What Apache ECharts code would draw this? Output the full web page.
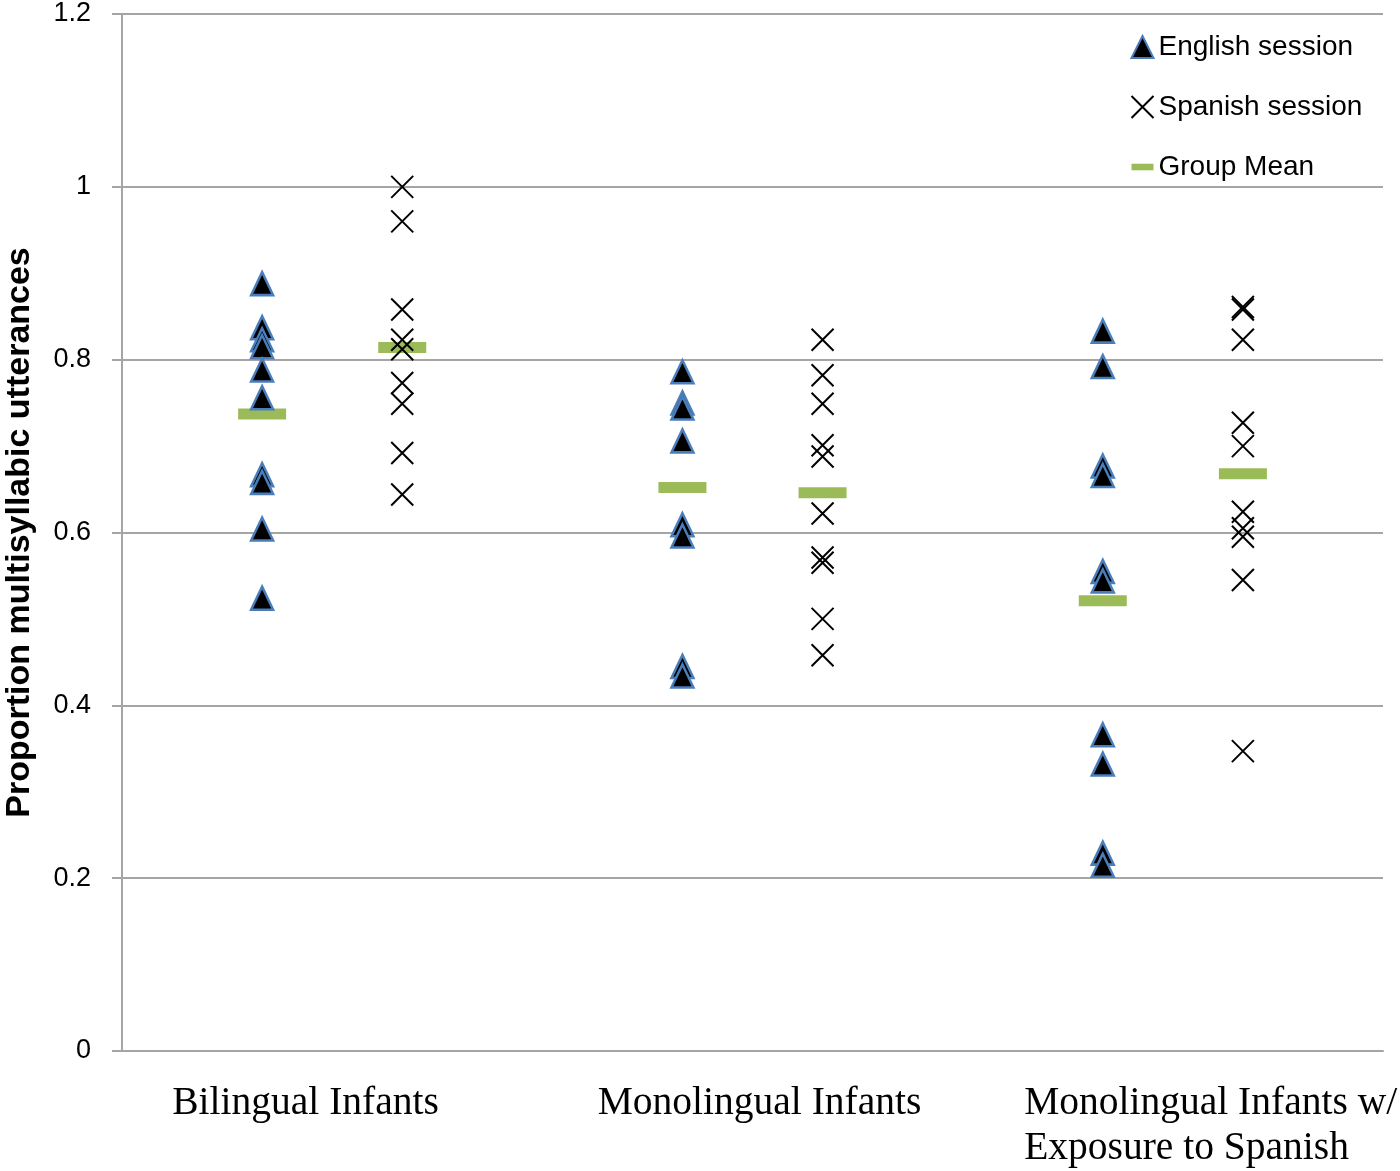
<!DOCTYPE html>
<html>
<head>
<meta charset="utf-8">
<script src="https://cdn.jsdelivr.net/npm/echarts@6/dist/echarts.min.js"></script>
<style>
html,body{margin:0;padding:0;background:#fff;}
#chart{width:1400px;height:1171px;}
</style>
</head>
<body>
<div id="chart"></div>
<script>
// Group x positions on the value axis (0..9)
const groupNames = ["Bilingual Infants", "Monolingual Infants", "Monolingual Infants w/\nExposure to Spanish"];
const labelPositions = [1.31, 4.55, 7.77];
const englishX = [1, 4, 7];
const spanishX = [2, 5, 8];

const englishBilingual = [0.888, 0.837, 0.823, 0.815, 0.788, 0.756, 0.667, 0.658, 0.604, 0.524];
const englishMonolingual = [0.786, 0.750, 0.744, 0.706, 0.609, 0.596, 0.445, 0.434];
const englishExposure = [0.833, 0.792, 0.677, 0.666, 0.555, 0.544, 0.366, 0.332, 0.229, 0.215];

const spanishBilingual = [1.000, 0.960, 0.858, 0.823, 0.812, 0.773, 0.749, 0.692, 0.644];
const spanishMonolingual = [0.823, 0.782, 0.749, 0.701, 0.688, 0.622, 0.571, 0.565, 0.500, 0.458];
const spanishExposure = [0.861, 0.858, 0.823, 0.727, 0.700, 0.624, 0.605, 0.595, 0.545, 0.347];

const englishMeans = [0.737, 0.652, 0.521];
const spanishMeans = [0.814, 0.646, 0.668];

const yTicks = [0, 0.2, 0.4, 0.6, 0.8, 1, 1.2];

function pts(x, arr) { return arr.map(v => [x, v]); }
const englishData = [].concat(
  pts(englishX[0], englishBilingual),
  pts(englishX[1], englishMonolingual),
  pts(englishX[2], englishExposure)
);
const spanishData = [].concat(
  pts(spanishX[0], spanishBilingual),
  pts(spanishX[1], spanishMonolingual),
  pts(spanishX[2], spanishExposure)
);
const meanData = englishMeans.map((v, i) => [englishX[i], v])
  .concat(spanishMeans.map((v, i) => [spanishX[i], v]));

const crossPath = 'path://M0,0L10,10M10,0L0,10';
const dashPath = 'path://M0,0L20,0L20,6L0,6Z';
const gridGray = '#a5a5a5';

const chart = echarts.init(document.getElementById('chart'), null, {renderer: 'canvas'});
chart.setOption({
  animation: false,
  backgroundColor: '#ffffff',
  grid: {left: 122, right: 17, top: 14, bottom: 120, containLabel: false, outerBoundsMode: 'none'},
  legend: {
    orient: 'vertical',
    left: 1124,
    top: 27,
    itemWidth: 22,
    itemHeight: 22,
    itemGap: 30,
    symbolKeepAspect: true,
    textStyle: {fontFamily: 'Liberation Sans, Arial, sans-serif', fontSize: 28, color: '#000', lineHeight: 30},
    data: [
      {name: 'English session', icon: 'triangle', itemStyle: {color: '#000', borderColor: '#4a7ebb', borderWidth: 2}},
      {name: 'Spanish session', icon: crossPath, itemStyle: {color: 'none', borderColor: '#000', borderWidth: 2}},
      {name: 'Group Mean', icon: dashPath, itemStyle: {color: '#9bbb59', borderWidth: 0}}
    ]
  },
  xAxis: {
    type: 'value',
    min: 0,
    max: 9,
    interval: 1,
    splitLine: {show: false},
    axisLine: {show: true, lineStyle: {color: gridGray, width: 2}},
    axisTick: {show: false},
    axisLabel: {
      customValues: labelPositions,
      margin: 30,
      formatter: function (v) {
        let idx = -1;
        labelPositions.forEach((p, i) => { if (Math.abs(p - v) < 1e-6) idx = i; });
        if (idx < 0) return '';
        return groupNames[idx].split('\n').map(s => '{l|' + s + '}').join('\n');
      },
      rich: {
        l: {fontFamily: 'Liberation Serif, Times New Roman, serif', fontSize: 39.5, color: '#000', align: 'left', lineHeight: 45}
      }
    }
  },
  yAxis: {
    type: 'value',
    min: 0,
    max: 1.2,
    interval: 0.2,
    name: 'Proportion multisyllabic utterances',
    nameLocation: 'middle',
    nameGap: 85,
    nameRotate: 90,
    nameTextStyle: {fontFamily: 'Liberation Sans, Arial, sans-serif', fontWeight: 'bold', fontSize: 34, color: '#000'},
    axisLine: {show: true, lineStyle: {color: gridGray, width: 2}},
    axisTick: {show: true, inside: false, length: 10, lineStyle: {color: gridGray, width: 2}},
    splitLine: {show: true, lineStyle: {color: gridGray, width: 2}},
    axisLabel: {
      margin: 31,
      fontFamily: 'Liberation Sans, Arial, sans-serif',
      fontSize: 27,
      color: '#000',
      formatter: function (v) {
        const t = yTicks.find(x => Math.abs(x - v) < 1e-6);
        return t === undefined ? '' : String(t);
      }
    }
  },
  series: [
    {
      name: 'Group Mean',
      type: 'scatter',
      symbol: 'rect',
      symbolSize: [48, 11],
      itemStyle: {color: '#9bbb59', opacity: 1},
      data: meanData,
      z: 2
    },
    {
      name: 'English session',
      type: 'scatter',
      symbol: 'triangle',
      symbolSize: [22, 23],
      itemStyle: {color: '#000', borderColor: '#4a7ebb', borderWidth: 2.5, opacity: 1},
      data: englishData,
      z: 3
    },
    {
      name: 'Spanish session',
      type: 'scatter',
      symbol: crossPath,
      symbolSize: [22, 22],
      itemStyle: {color: 'none', borderColor: '#000', borderWidth: 2, opacity: 1},
      data: spanishData,
      z: 3
    }
  ]
});
</script>
</body>
</html>
